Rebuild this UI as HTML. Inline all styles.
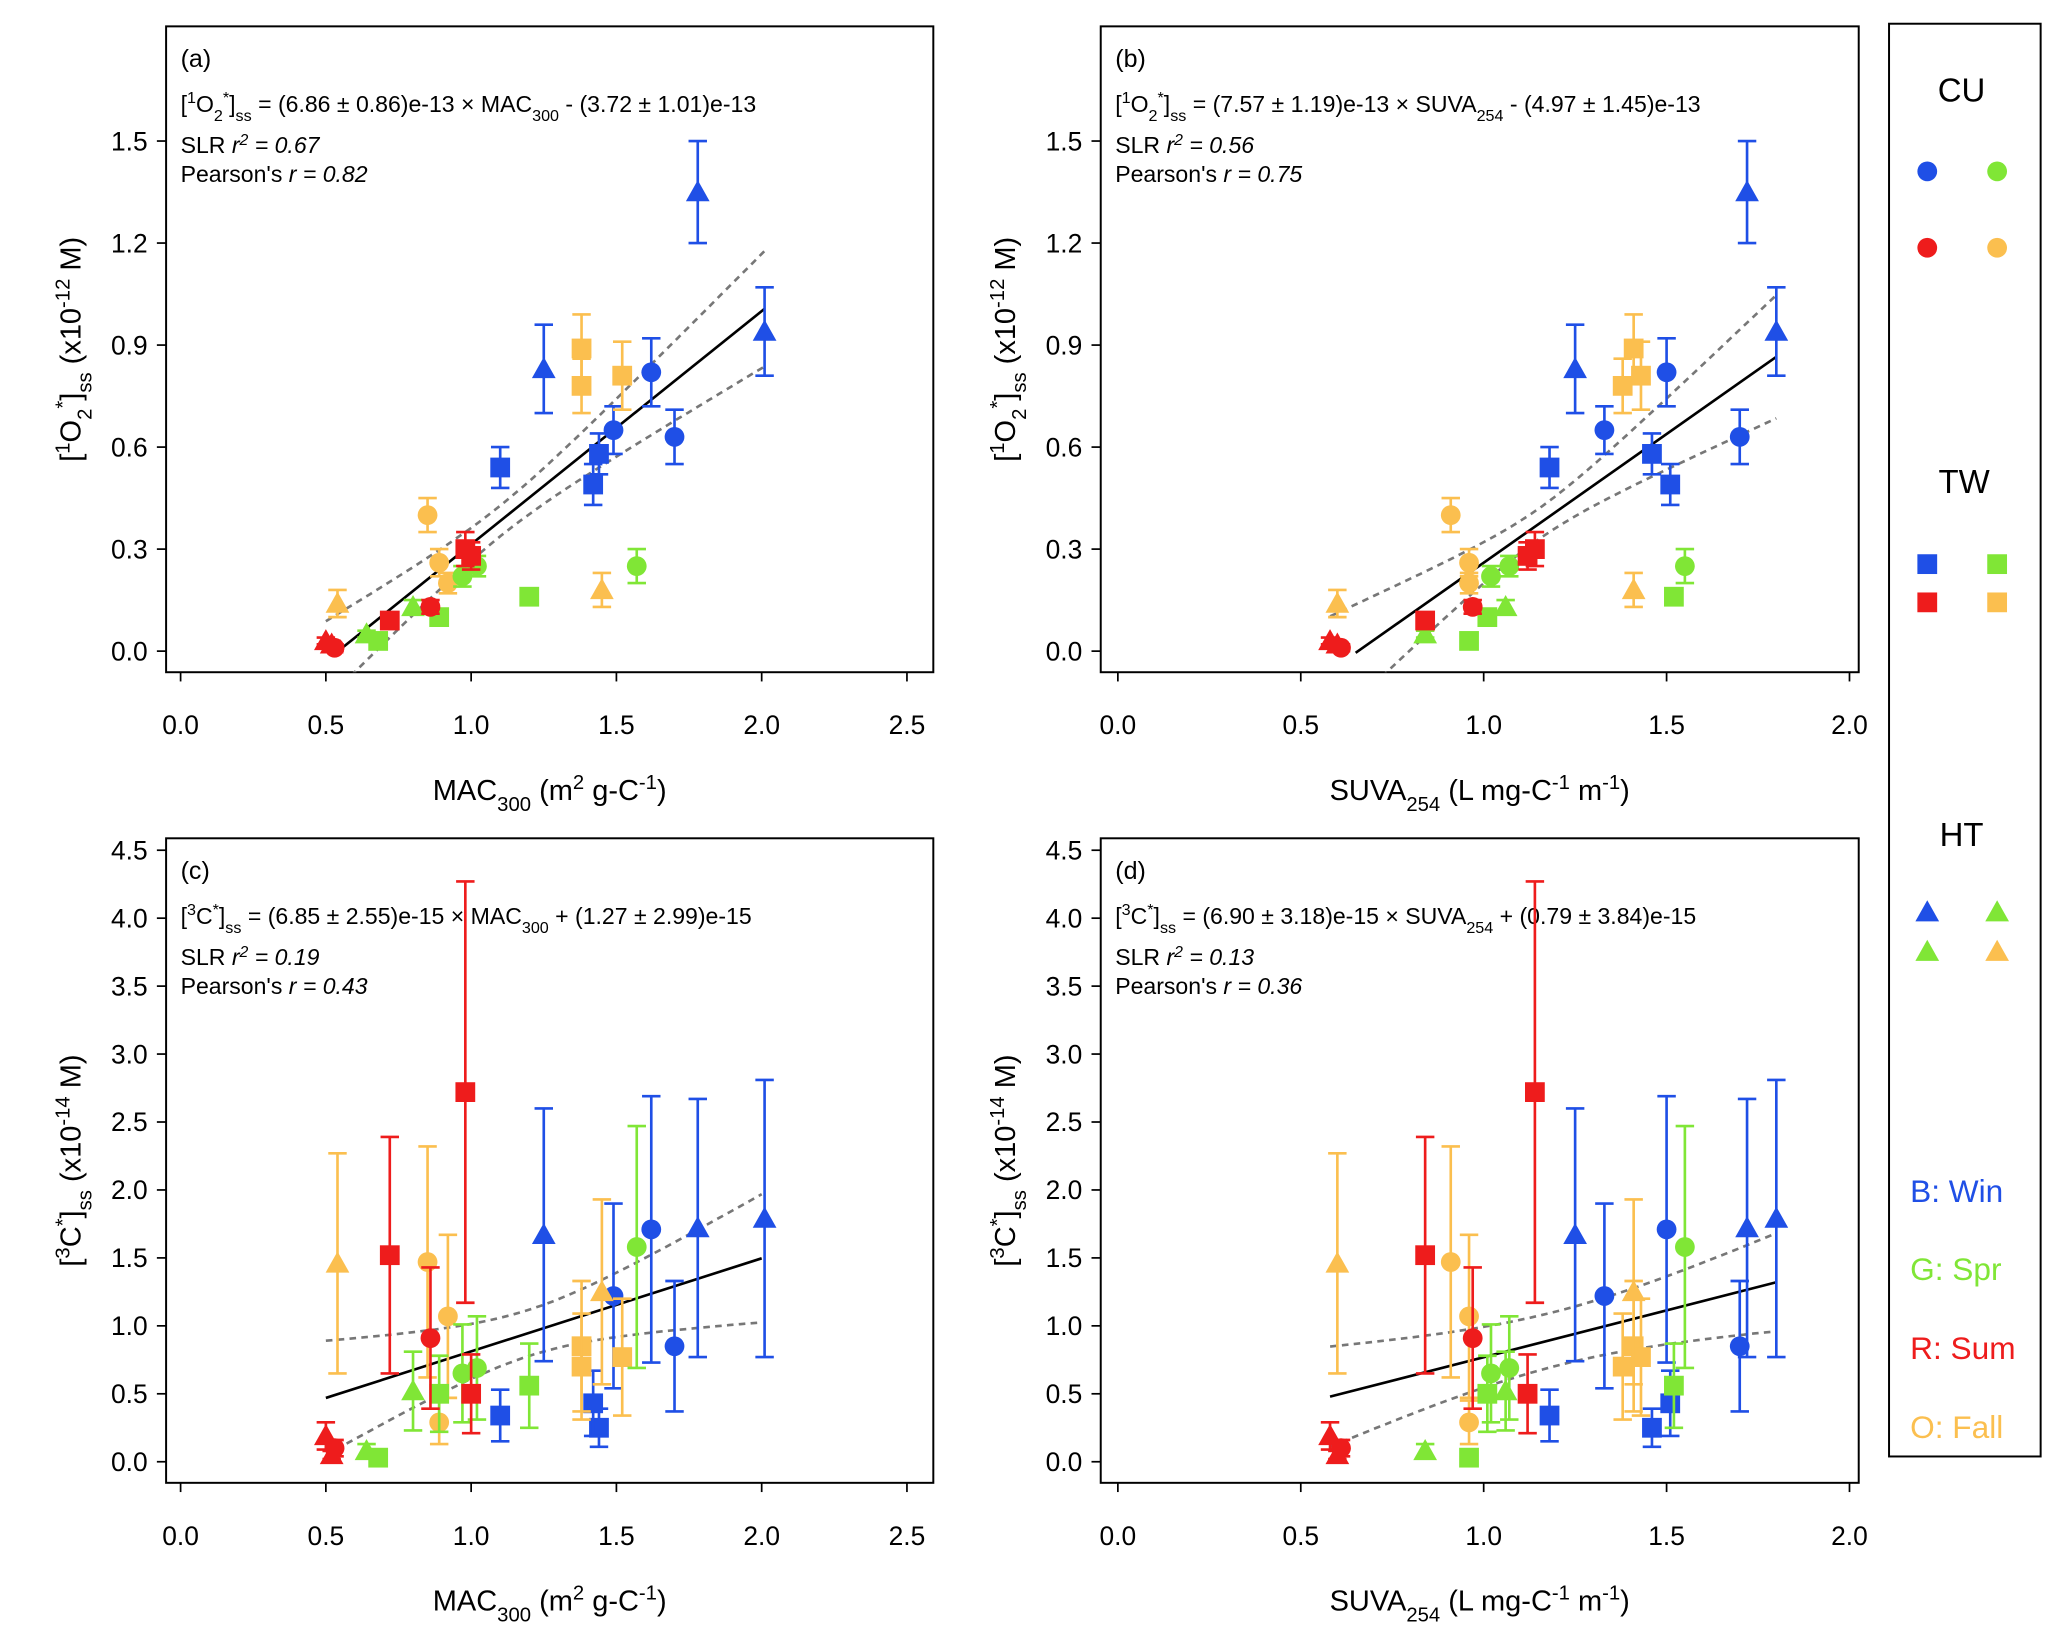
<!DOCTYPE html>
<html><head><meta charset="utf-8"><style>
html,body{margin:0;padding:0;background:#fff}
svg{display:block}
text{font-family:"Liberation Sans",Arial,sans-serif}
</style></head><body>
<svg id="chart" width="2067" height="1641" viewBox="0 0 1568 1245" preserveAspectRatio="none" xmlns="http://www.w3.org/2000/svg"></svg>
<script>
// ---- data (samples) ----
const colors = ["B","B","B","B","B","B","B","B","B","O","O","O","O","O","O","O","O","G","G","G","G","G","G","G","G","R","R","R","R","R","R","R"];
const shapes = ["t","t","t","c","c","c","s","s","s","s","s","s","c","c","c","t","t","c","c","s","s","s","t","t","c","s","s","s","c","c","t","t"];
const mac  = [1.78,2.01,1.25,1.62,1.70,1.49,1.10,1.44,1.42,1.38,1.38,1.52,0.85,0.89,0.92,0.54,1.45,1.02,1.57,1.20,0.89,0.68,0.80,0.64,0.97,0.98,0.72,1.00,0.86,0.53,0.50,0.52];
const suva = [1.72,1.80,1.25,1.50,1.70,1.33,1.18,1.46,1.51,1.41,1.38,1.43,0.91,0.96,0.96,0.60,1.41,1.07,1.55,1.52,1.01,0.96,1.06,0.84,1.02,1.14,0.84,1.12,0.97,0.61,0.58,0.60];
const o2   = [1.35,0.94,0.83,0.82,0.63,0.65,0.54,0.58,0.49,0.89,0.78,0.81,0.40,0.26,0.20,0.14,0.18,0.25,0.25,0.16,0.10,0.03,0.13,0.05,0.22,0.30,0.09,0.28,0.13,0.01,0.03,0.02];
const o2e  = [0.15,0.13,0.13,0.10,0.08,0.07,0.06,0.06,0.06,0.10,0.08,0.10,0.05,0.04,0.03,0.04,0.05,0.03,0.05,0.02,0.02,0.01,0.02,0.01,0.03,0.05,0.02,0.04,0.02,0.01,0.01,0.01];
const c3   = [1.72,1.79,1.67,1.71,0.85,1.22,0.34,0.25,0.43,0.85,0.70,0.77,1.47,0.29,1.07,1.46,1.25,0.69,1.58,0.56,0.50,0.03,0.52,0.08,0.65,2.72,1.52,0.50,0.91,0.10,0.19,0.05];
const c3e  = [0.95,1.02,0.93,0.98,0.48,0.68,0.19,0.14,0.24,0.48,0.39,0.43,0.85,0.16,0.60,0.81,0.68,0.38,0.89,0.31,0.28,0.02,0.29,0.05,0.36,1.55,0.87,0.29,0.52,0.06,0.10,0.03];
const xTicksMac = [0.0,0.5,1.0,1.5,2.0,2.5];
const xTicksSuva = [0.0,0.5,1.0,1.5,2.0];
const yTicksO2 = [0.0,0.3,0.6,0.9,1.2,1.5];
const yTicksC3 = [0.0,0.5,1.0,1.5,2.0,2.5,3.0,3.5,4.0,4.5];
const fitSlope = [0.686,0.757,0.685,0.690];
const fitInt = [-0.372,-0.497,0.127,0.079];
const fitRange = [[0.54,2.01],[0.65,1.80],[0.50,2.00],[0.58,1.80]];
const bandRange = [[0.50,2.01],[0.58,1.80],[0.50,2.00],[0.58,1.80]];

const COL={B:"#1f4fe6",G:"#80e636",R:"#ee1c1c",O:"#fbbf4f"};
const NS="http://www.w3.org/2000/svg";
const svg=document.getElementById('chart');
function mk(tag,attrs,parent){const e=document.createElementNS(NS,tag);for(const k in attrs)e.setAttribute(k,attrs[k]);(parent||svg).appendChild(e);return e;}
const defs=mk('defs',{});

const panels=[
 {id:"a",box:[126,20,708,510],x0:137,xs:220.4,y0:494,ys:258,xv:mac,yv:o2,ye:o2e,xt:xTicksMac,yt:yTicksO2,band:[1.1,0.045,0.18],
  eq:['[',['1','sup'],'O',['2','sub'],['*','sup'],']',['ss','sub'],' = (6.86 ± 0.86)e-13 × MAC',['300','sub'],' - (3.72 ± 1.01)e-13'],r2:'0.67',r:'0.82',xl:'mac',yl:'o2'},
 {id:"b",box:[835,20,1410,510],x0:848,xs:277.5,y0:494,ys:258,xv:suva,yv:o2,ye:o2e,xt:xTicksSuva,yt:yTicksO2,band:[1.15,0.045,0.27],
  eq:['[',['1','sup'],'O',['2','sub'],['*','sup'],']',['ss','sub'],' = (7.57 ± 1.19)e-13 × SUVA',['254','sub'],' - (4.97 ± 1.45)e-13'],r2:'0.56',r:'0.75',xl:'suva',yl:'o2'},
 {id:"c",box:[126,636,708,1125],x0:137,xs:220.4,y0:1109,ys:103.1,xv:mac,yv:c3,ye:c3e,xt:xTicksMac,yt:yTicksC3,band:[1.2,0.17,0.55],
  eq:['[',['3','sup'],'C',['*','sup'],']',['ss','sub'],' = (6.85 ± 2.55)e-15 × MAC',['300','sub'],' + (1.27 ± 2.99)e-15'],r2:'0.19',r:'0.43',xl:'mac',yl:'c3'},
 {id:"d",box:[835,636,1410,1125],x0:848,xs:277.5,y0:1109,ys:103.1,xv:suva,yv:c3,ye:c3e,xt:xTicksSuva,yt:yTicksC3,band:[1.2,0.2,0.5],
  eq:['[',['3','sup'],'C',['*','sup'],']',['ss','sub'],' = (6.90 ± 3.18)e-15 × SUVA',['254','sub'],' + (0.79 ± 3.84)e-15'],r2:'0.13',r:'0.36',xl:'suva',yl:'c3'}
];

function richText(parts,x,y,size,parent,anchor){
  const t=mk('text',{x:x,y:y,'font-size':size,'text-anchor':anchor||'start',fill:'#000'},parent);
  parts.forEach(p=>{
    if(typeof p==='string'){const s=mk('tspan',{},t);s.textContent=p;}
    else{const s=mk('tspan',{'baseline-shift':p[1]==='sup'?'super':'sub','font-size':size*0.7},t);s.textContent=p[0];}
  });
  return t;
}
function marker(shape,cx,cy,fill,parent){
  let e;
  if(shape==='c') e=mk('circle',{cx:cx,cy:cy,r:7.5,fill:fill},parent);
  else if(shape==='s') e=mk('rect',{x:cx-7.5,y:cy-7.5,width:15,height:15,fill:fill},parent);
  else e=mk('polygon',{points:`${cx},${cy-9} ${cx-9},${cy+7} ${cx+9},${cy+7}`,fill:fill},parent);
  return e;
}

panels.forEach((p,pi)=>{
  const g=mk('g',{});
  
  
  const X=v=>p.x0+v*p.xs, Y=v=>p.y0-v*p.ys;
  const [L,T,R,B]=p.box;
  const cp=mk('clipPath',{id:'clip-'+p.id},defs);
  mk('rect',{x:L,y:T,width:R-L,height:B-T},cp);
  const fr=mk('rect',{x:L,y:T,width:R-L,height:B-T,fill:'none',stroke:'#000','stroke-width':1.5},g);
  
  
  p.xt.forEach(v=>{
    mk('line',{x1:X(v),x2:X(v),y1:B,y2:B+7,stroke:'#000','stroke-width':1.3},g);
    const t=mk('text',{x:X(v),y:B+47,'font-size':20,'text-anchor':'middle',fill:'#000'},g);t.textContent=v.toFixed(1);
    
    
  });
  p.yt.forEach(v=>{
    mk('line',{x1:L-7,x2:L,y1:Y(v),y2:Y(v),stroke:'#000','stroke-width':1.3},g);
    const t=mk('text',{x:L-14,y:Y(v)+7,'font-size':20,'text-anchor':'end',fill:'#000'},g);t.textContent=v.toFixed(1);
    
    
  });
  const cx=(L+R)/2;
  const xt = p.xl==='mac'
    ? richText(['MAC',['300','sub'],' (m',['2','sup'],' g-C',['-1','sup'],')'],cx,B+97,22,g,'middle')
    : richText(['SUVA',['254','sub'],' (L mg-C',['-1','sup'],' m',['-1','sup'],')'],cx,B+97,22,g,'middle');
  
  
  const cy=(T+B)/2, ax=L-85;
  const yt = p.yl==='o2'
    ? richText(['[',['1','sup'],'O',['2','sub'],['*','sup'],']',['ss','sub'],' (x10',['-12','sup'],'  M)'],0,0,22,g,'middle')
    : richText(['[',['3','sup'],'C',['*','sup'],']',['ss','sub'],' (x10',['-14','sup'],'  M)'],0,0,22,g,'middle');
  yt.setAttribute('transform',`translate(${ax+20},${cy}) rotate(-90)`);
  
  
  const lab=mk('text',{x:L+11,y:T+31,'font-size':19,fill:'#000'},g);lab.textContent='('+p.id+')';
  
  
  const eq=richText(p.eq,L+11,T+65,17.5,g);
  
  
  const r2=mk('text',{x:L+11,y:T+96,'font-size':17.5,fill:'#000'},g);
  r2.appendChild(document.createTextNode('SLR '));
  const it=mk('tspan',{'font-style':'italic'},r2);it.textContent='r';
  const sp=mk('tspan',{'baseline-shift':'super','font-size':12,'font-style':'italic'},r2);sp.textContent='2';
  const it2=mk('tspan',{'font-style':'italic','baseline-shift':'0'},r2);it2.textContent=' = '+p.r2;
  
  
  const pr=mk('text',{x:L+11,y:T+118,'font-size':17.5,fill:'#000'},g);
  pr.appendChild(document.createTextNode("Pearson's  "));
  const pi2=mk('tspan',{'font-style':'italic'},pr);pi2.textContent='r = '+p.r;
  
  
  const [xa,xb]=fitRange[pi];const m=fitSlope[pi],c=fitInt[pi];
  const fl=mk('line',{x1:X(xa),y1:Y(m*xa+c),x2:X(xb),y2:Y(m*xb+c),stroke:'#000','stroke-width':2},g);
  
  
  const bg=mk('g',{'clip-path':'url(#clip-'+p.id+')'},g);
  [1,-1].forEach(sg=>{
    let d='';
    const [ba,bb]=bandRange[pi], n=40;
    for(let i=0;i<=n;i++){const x=ba+(bb-ba)*i/n;const h=Math.sqrt(p.band[1]**2+(p.band[2]*(x-p.band[0]))**2);
      d+=(i?'L':'M')+X(x).toFixed(1)+','+Y(m*x+c+sg*h).toFixed(1);}
    const bp=mk('path',{d:d,fill:'none',stroke:'#777','stroke-width':2,'stroke-dasharray':'5,4'},bg);
    
    
  });
  for(let i=0;i<colors.length;i++){
    const col=COL[colors[i]];const px=X(p.xv[i]),py=Y(p.yv[i]);
    const yT=Y(p.yv[i]+p.ye[i]),yB=Y(Math.max(0,p.yv[i]-p.ye[i]));
    const eb=mk('path',{d:`M${px},${yT}V${yB}M${px-7},${yT}H${px+7}M${px-7},${yB}H${px+7}`,stroke:col,'stroke-width':2,fill:'none'},g);
    
    
    const mm=marker(shapes[i],px,py,col,g);
    
    
  }
});

const lg=mk('g',{});


mk('rect',{x:1433,y:18,width:115,height:1087,fill:'none',stroke:'#000','stroke-width':1.5},lg);
function ltext(s,x,y,col,name){const t=mk('text',{x:x,y:y,'font-size':25,'text-anchor':'middle',fill:col},lg);t.textContent=s;
  
  }
ltext('CU',1488,77,'#000','legend-site-cu');
ltext('TW',1490,374,'#000','legend-site-tw');
ltext('HT',1488,642,'#000','legend-site-ht');
[[ 'c',1462,130,'B'],['c',1515,130,'G'],['c',1462,188,'R'],['c',1515,188,'O'],
 ['s',1462,428,'B'],['s',1515,428,'G'],['s',1462,457,'R'],['s',1515,457,'O'],
 ['t',1462,692,'B'],['t',1515,692,'G'],['t',1462,722,'G'],['t',1515,722,'O']].forEach(a=>{
  const e=marker(a[0],a[1],a[2],COL[a[3]],lg);
  
  
});
const seas=[['B: Win','B',912],['G: Spr','G',971],['R: Sum','R',1031],['O: Fall','O',1091]];
seas.forEach(s=>{const t=mk('text',{x:1449,y:s[2],'font-size':24,fill:COL[s[1]]},lg);t.textContent=s[0];
  
  });
</script>
</body></html>
